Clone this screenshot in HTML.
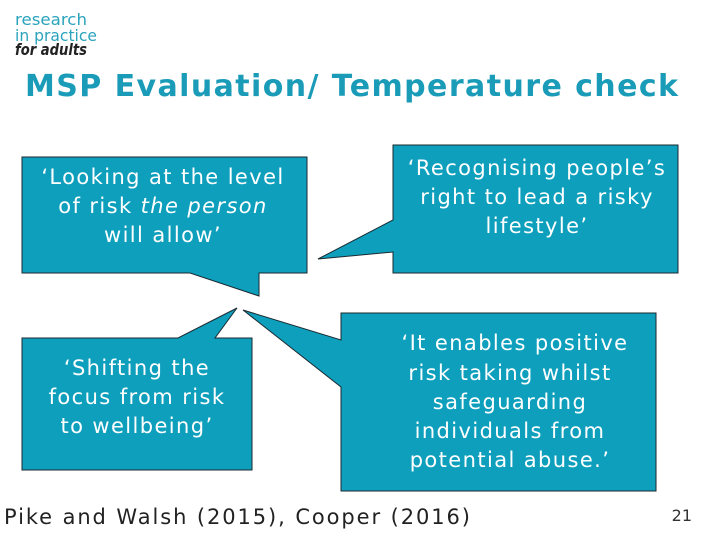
<!DOCTYPE html>
<html><head><meta charset="utf-8"><style>
html,body{margin:0;padding:0;background:#fff}
svg{display:block}
text{font-family:"DejaVu Sans","Liberation Sans",sans-serif}
</style></head><body>
<svg width="720" height="540" viewBox="0 0 720 540">
<g>
<text x="15" y="25" font-size="16" fill="#2aa3bd" textLength="72" lengthAdjust="spacingAndGlyphs">research</text>
<text x="15" y="41" font-size="16" fill="#2aa3bd" textLength="82" lengthAdjust="spacingAndGlyphs">in practice</text>
<text x="15" y="55" font-size="16" fill="#222" font-style="italic" font-weight="bold" textLength="72" lengthAdjust="spacingAndGlyphs">for adults</text>
</g>
<text x="25" y="96" font-size="30" font-weight="bold" fill="#1a9bb8" textLength="653" lengthAdjust="spacing">MSP Evaluation/ Temperature check</text>
<g stroke="#1a2a30" stroke-width="1" fill="#0e9fbd">
<path d="M22,157 H307 V273 H259 V296 L190,273 H22 Z"/>
<path d="M393,145 H678 V273 H393 V252 L318,259 L393,220 Z"/>
<path d="M22,338 H178 L237,308 L215,338 H252 V470 H22 Z"/>
<path d="M341,313 H656 V491 H341 V387 L243,310 L341,340 Z"/>
</g>
<g fill="#fff" font-size="21" text-anchor="middle" letter-spacing="1.4">
<text><tspan x="163" y="184">‘Looking at the level</tspan><tspan x="163" y="213">of risk <tspan font-style="italic">the person</tspan></tspan><tspan x="163" y="242">will allow’</tspan></text>
<text><tspan x="537" y="175">‘Recognising people’s</tspan><tspan x="537" y="204">right to lead a risky</tspan><tspan x="537" y="233">lifestyle’</tspan></text>
<text><tspan x="137" y="375">‘Shifting the</tspan><tspan x="137" y="404">focus from risk</tspan><tspan x="137" y="433">to wellbeing’</tspan></text>
<text><tspan x="515" y="350">‘It enables positive</tspan><tspan x="510" y="380">risk taking whilst</tspan><tspan x="510" y="409">safeguarding</tspan><tspan x="510" y="438">individuals from</tspan><tspan x="510" y="467">potential abuse.’</tspan></text>
</g>
<text x="4" y="524" font-size="21" fill="#222" textLength="466" lengthAdjust="spacing">Pike and Walsh (2015), Cooper (2016)</text>
<text x="692" y="521" font-size="16" fill="#333" text-anchor="end">21</text>
</svg>
</body></html>
